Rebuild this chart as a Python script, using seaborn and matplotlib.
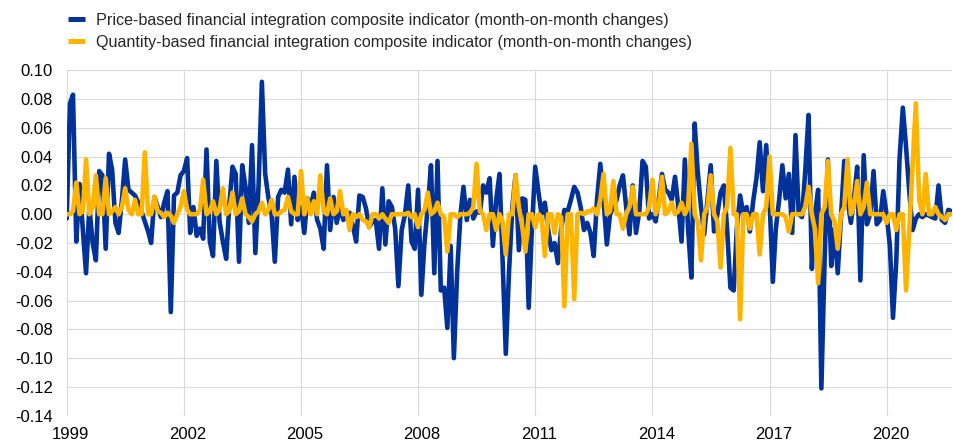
import pandas as pd
import matplotlib
matplotlib.use("Agg")
import matplotlib.pyplot as plt
import matplotlib.transforms as mtransforms
from matplotlib.lines import Line2D
import seaborn as sns

# Month-on-month changes, Jan 1999 - Sep 2021
price_based = [
    -0.003, 0.077, 0.083, -0.019, 0.021, -0.010, -0.041, 0.005, -0.020, -0.032, 0.030, 0.027,   # 1999
    -0.024, 0.042, 0.031, -0.006, -0.013, 0.010, 0.038, 0.017, 0.015, 0.013, 0.008, 0.002,     # 2000
    -0.005, -0.012, -0.020, 0.012, 0.005, -0.002, 0.008, 0.016, -0.068, 0.013, 0.015, 0.027,   # 2001
    0.030, 0.039, -0.013, 0.005, -0.015, -0.010, -0.017, 0.045, -0.019, -0.029, 0.037, -0.005, # 2002
    -0.019, -0.031, 0.005, 0.033, 0.028, -0.033, 0.034, 0.019, -0.006, 0.048, -0.027, 0.020,   # 2003
    0.092, 0.028, 0.012, 0.000, -0.033, 0.012, 0.017, 0.015, 0.031, -0.007, 0.026, -0.004,     # 2004
    0.005, -0.013, 0.011, 0.005, 0.015, -0.004, -0.010, -0.024, 0.034, -0.011, 0.012, -0.006,  # 2005
    0.005, -0.004, -0.001, 0.001, -0.008, -0.019, 0.013, 0.012, 0.004, -0.009, -0.005, -0.004, # 2006
    -0.024, 0.018, -0.021, 0.009, 0.005, -0.010, -0.050, -0.011, 0.000, 0.020, -0.019, -0.024, # 2007
    0.017, -0.056, -0.020, 0.005, 0.034, -0.041, 0.037, -0.053, -0.051, -0.079, -0.022, -0.100, # 2008
    -0.040, 0.000, 0.019, -0.004, 0.010, -0.003, 0.002, 0.001, 0.020, 0.015, 0.025, -0.022,    # 2009
    0.010, 0.028, -0.030, -0.097, -0.040, 0.005, 0.027, -0.025, 0.011, 0.010, -0.065, -0.010,  # 2010
    0.033, 0.015, 0.000, 0.008, -0.010, -0.025, -0.020, -0.034, -0.010, 0.003, 0.002, 0.010,   # 2011
    0.019, 0.015, 0.005, -0.011, -0.006, -0.013, -0.029, 0.010, 0.035, 0.010, -0.021, 0.000,   # 2012
    0.005, 0.010, 0.020, 0.027, 0.005, -0.014, 0.020, -0.013, 0.002, 0.037, 0.033, -0.003,     # 2013
    0.000, -0.005, 0.010, 0.028, 0.017, 0.015, 0.010, 0.026, 0.005, -0.019, 0.038, -0.010,     # 2014
    -0.044, 0.063, 0.030, 0.005, -0.014, 0.010, 0.034, -0.012, 0.000, 0.015, 0.020, -0.010,    # 2015
    -0.051, -0.053, -0.010, 0.013, 0.000, 0.005, -0.012, 0.009, 0.025, 0.050, 0.016, 0.048,    # 2016
    0.010, -0.047, -0.010, 0.010, 0.034, 0.011, 0.028, -0.013, 0.055, 0.000, -0.002, 0.030,    # 2017
    0.069, -0.038, 0.000, 0.017, -0.121, -0.030, 0.038, -0.036, -0.010, -0.041, -0.002, 0.037, # 2018
    0.010, -0.006, 0.010, 0.033, -0.046, 0.041, -0.007, 0.000, 0.030, -0.007, -0.004, 0.016,   # 2019
    0.000, -0.022, -0.072, -0.032, 0.038, 0.074, 0.047, 0.015, -0.011, -0.003, 0.000, -0.002,  # 2020
    0.000, -0.001, -0.002, -0.003, 0.020, -0.004, -0.006, 0.003, 0.002,                        # 2021
]

quantity_based = [
    0.000, 0.000, 0.002, 0.022, 0.000, 0.002, 0.038, 0.000, 0.005, 0.027, 0.000, 0.000,        # 1999
    0.025, 0.000, 0.002, 0.005, 0.000, 0.005, 0.018, 0.003, 0.000, 0.010, 0.000, 0.000,        # 2000
    0.043, 0.000, 0.000, 0.012, 0.002, 0.001, -0.002, 0.001, -0.001, -0.006, 0.000, 0.005,     # 2001
    0.016, 0.003, 0.000, 0.000, 0.000, 0.003, 0.024, 0.000, 0.002, 0.009, 0.000, 0.003,        # 2002
    0.018, 0.000, 0.002, 0.015, 0.000, 0.002, 0.011, 0.000, -0.002, -0.005, 0.000, 0.002,      # 2003
    0.008, 0.000, 0.003, 0.010, 0.000, 0.000, 0.002, 0.003, 0.012, 0.002, 0.000, 0.000,        # 2004
    0.030, 0.000, 0.011, 0.000, 0.009, 0.000, 0.027, 0.002, 0.000, 0.011, 0.000, 0.002,        # 2005
    0.016, 0.000, 0.003, -0.011, 0.000, -0.002, 0.000, -0.004, -0.005, -0.009, 0.000, 0.000,   # 2006
    -0.003, 0.000, -0.003, -0.006, 0.000, 0.000, 0.000, 0.000, 0.000, 0.001, -0.002, 0.000,    # 2007
    -0.009, 0.000, 0.003, 0.015, 0.000, 0.002, 0.008, 0.000, -0.002, -0.026, 0.000, 0.000,     # 2008
    -0.002, 0.000, 0.000, 0.000, 0.001, 0.005, 0.035, 0.002, 0.000, -0.011, 0.000, 0.000,      # 2009
    -0.011, 0.000, -0.005, -0.028, 0.000, 0.000, 0.027, 0.005, -0.008, -0.026, 0.000, 0.000,   # 2010
    -0.009, 0.000, -0.002, -0.029, 0.000, 0.000, -0.013, 0.000, -0.002, -0.064, 0.000, 0.000,  # 2011
    -0.059, 0.000, 0.001, 0.000, 0.002, 0.002, 0.004, 0.000, 0.010, 0.028, 0.000, 0.002,       # 2012
    0.023, 0.000, 0.000, -0.010, 0.000, 0.005, 0.019, 0.000, 0.000, 0.000, 0.000, 0.005,       # 2013
    0.024, 0.000, 0.005, 0.026, 0.000, 0.002, 0.008, 0.000, 0.002, 0.008, 0.000, 0.005,        # 2014
    0.049, 0.000, -0.005, -0.032, 0.000, 0.005, 0.027, 0.000, -0.005, -0.037, 0.000, 0.005,    # 2015
    0.046, 0.000, 0.000, -0.073, 0.000, 0.000, -0.010, 0.000, 0.000, -0.028, 0.000, 0.005,     # 2016
    0.040, 0.000, 0.000, 0.000, 0.000, -0.002, -0.012, 0.000, 0.000, 0.000, 0.000, 0.005,      # 2017
    0.019, 0.000, -0.010, -0.048, 0.000, 0.005, 0.037, 0.000, -0.005, -0.024, 0.000, 0.005,    # 2018
    0.038, 0.000, 0.005, 0.023, 0.000, 0.005, 0.022, 0.000, 0.000, 0.000, 0.000, 0.000,        # 2019
    -0.006, 0.000, 0.000, -0.011, 0.000, 0.000, -0.053, -0.010, 0.035, 0.077, 0.010, 0.000,    # 2020
    0.028, 0.000, 0.000, 0.005, 0.000, -0.002, -0.004, 0.000, 0.000,                           # 2021
]

series_names = [
    "Price-based financial integration composite indicator (month-on-month changes)",
    "Quantity-based financial integration composite indicator (month-on-month changes)",
]
series_colors = ["#003299", "#ffb400"]
tick_years = [1999, 2002, 2005, 2008, 2011, 2014, 2017, 2020]
y_ticks = [0.10, 0.08, 0.06, 0.04, 0.02, 0.00, -0.02, -0.04, -0.06, -0.08, -0.10, -0.12, -0.14]

dates = pd.date_range("1999-01-01", periods=len(price_based), freq="MS")
df = pd.concat([
    pd.DataFrame({"date": dates, "value": price_based, "series": series_names[0]}),
    pd.DataFrame({"date": dates, "value": quantity_based, "series": series_names[1]}),
])

sns.set_style("white")
plt.rcParams["font.family"] = ["Liberation Sans", "DejaVu Sans"]

fig = plt.figure(figsize=(9.54, 4.43), dpi=100)
ax = fig.add_axes([0.0699, 0.0609, 0.9280, 0.7811])

sns.lineplot(data=df, x="date", y="value", hue="series", hue_order=series_names,
             palette=series_colors, linewidth=3.3, legend=False, ax=ax)

# axes look: only light grey grid, no frame
for s in ax.spines.values():
    s.set_visible(False)
ax.set_xlim(dates[0], dates[-1] + pd.Timedelta(days=3))
ax.set_ylim(-0.1402, 0.1002)
ax.set_xticks([pd.Timestamp(f"{y}-01-01") for y in tick_years])
ax.set_xticklabels([str(y) for y in tick_years])
ax.set_yticks(y_ticks)
ax.set_yticklabels([f"{v:.2f}" for v in y_ticks])
ax.grid(True, color="#d9d9d9", linewidth=0.8)
ax.set_axisbelow(True)
ax.tick_params(axis="both", length=0, labelsize=12, colors="black")
ax.tick_params(axis="y", pad=10)
ax.tick_params(axis="x", pad=8)
ax.set_xlabel("")
ax.set_ylabel("")

# year labels sit a few pixels right of the gridlines in the original
shift = mtransforms.ScaledTranslation(4 / 100, 0, fig.dpi_scale_trans)
for lbl in ax.get_xticklabels():
    lbl.set_transform(lbl.get_transform() + shift)

handles = [Line2D([0], [0], color=c, linewidth=3.6, solid_capstyle="butt") for c in series_colors]
fig.legend(handles, series_names, loc="upper left", bbox_to_anchor=(0.0713, 0.971),
           frameon=False, fontsize=11.6, handlelength=1.05, handletextpad=0.68,
           labelspacing=0.43, borderpad=0, borderaxespad=0)

plt.savefig("out.png", dpi=100)
